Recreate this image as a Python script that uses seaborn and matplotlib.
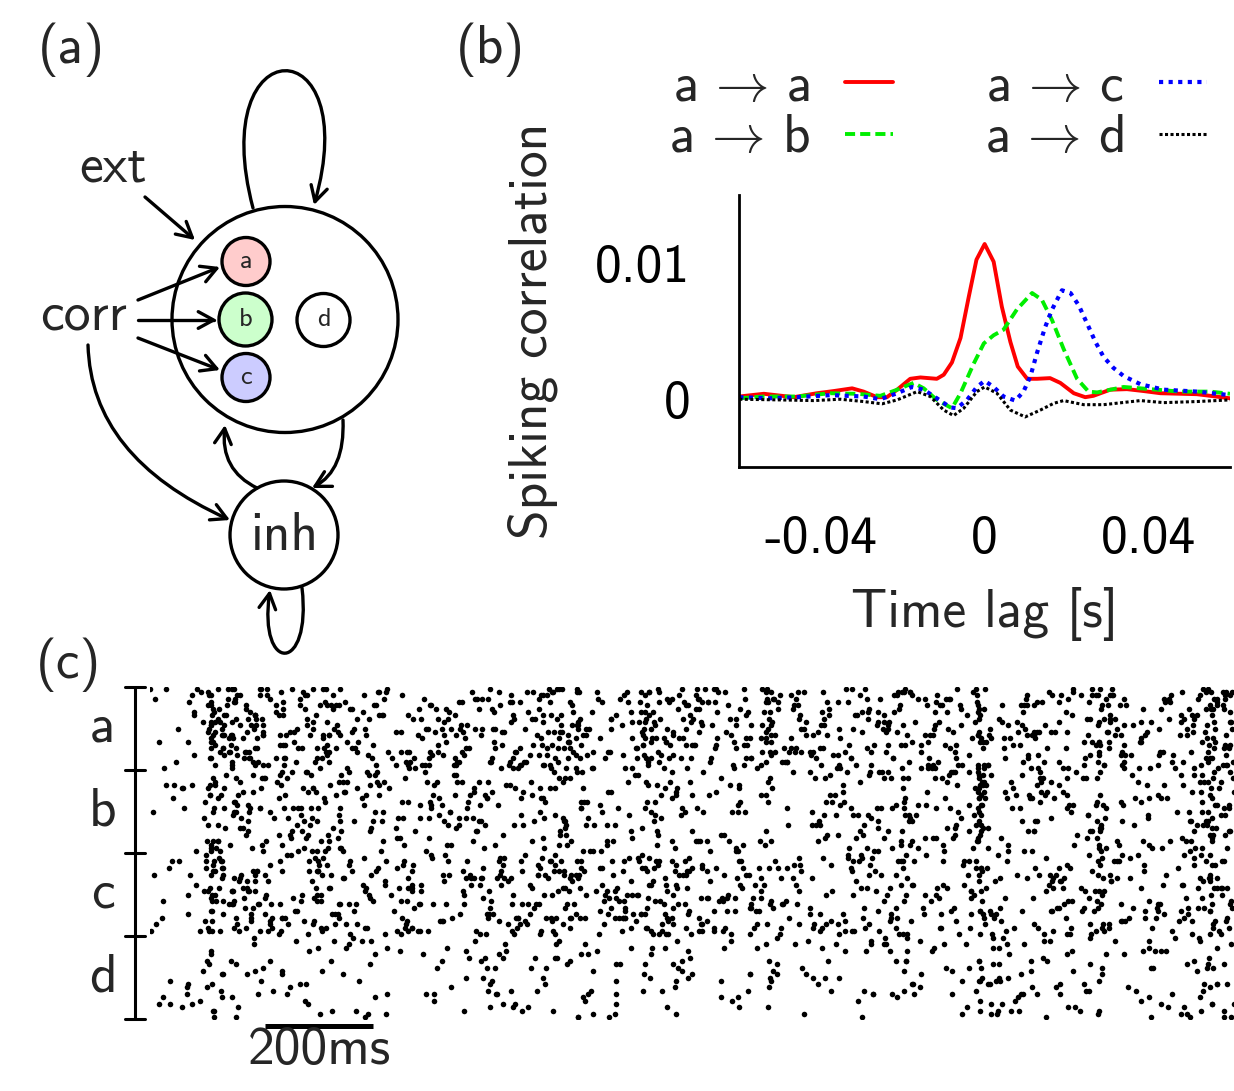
import numpy as np
import pandas as pd
import matplotlib
matplotlib.use("Agg")
import matplotlib.pyplot as plt
import seaborn as sns
from matplotlib.patches import Circle, FancyArrowPatch
from matplotlib.path import Path

# ---------------- data: panel (b) spiking correlation ----------------
lag_aa = [-0.0600, -0.054, -0.0467, -0.041, -0.0369, -0.0324, -0.0296, -0.0263, -0.0239, -0.0214,
          -0.0182, -0.0157, -0.0117, -0.0100, -0.0080, -0.0059, -0.0039, -0.0020, 0.0000, 0.0022,
          0.0042, 0.0063, 0.0081, 0.0104, 0.0128, 0.0160, 0.0185, 0.0218, 0.0246, 0.0266,
          0.0307, 0.0348, 0.0389, 0.0430, 0.0519, 0.0600]
val_aa = [0.0002, 0.0004, 0.00015, 0.00044, 0.0006, 0.0008, 0.00056, 0.00015, 0.00015, 0.0007,
          0.0015, 0.0016, 0.0015, 0.0018, 0.0027, 0.0045, 0.0075, 0.01025, 0.0114, 0.0101,
          0.0068, 0.0042, 0.0024, 0.0015, 0.0015, 0.00155, 0.0012, 0.00044, 0.00015, 0.00025,
          0.0007, 0.00074, 0.0006, 0.00044, 0.00037, 0.00007]

lag_ab = [-0.0600, -0.054, -0.0459, -0.0377, -0.0312, -0.0255, -0.0214, -0.0174, -0.0149, -0.0117,
          -0.0080, -0.0059, -0.0027, -0.0002, 0.0022, 0.0046, 0.0079, 0.0116, 0.0140, 0.0165,
          0.0193, 0.0226, 0.0254, 0.0275, 0.0340, 0.0405, 0.0478, 0.0552, 0.0600]
val_ab = [0.00007, 0.0002, 0.0002, 0.00044, 0.0004, 0.00025, 0.0007, 0.0012, 0.0008, -0.00005,
          -0.00066, 0.00044, 0.0026, 0.0041, 0.0047, 0.0051, 0.0066, 0.0078, 0.0073, 0.0058,
          0.0037, 0.0015, 0.00056, 0.0005, 0.0009, 0.00074, 0.00056, 0.00056, 0.0004]

lag_ac = [-0.0600, -0.0524, -0.0459, -0.0377, -0.0296, -0.0255, -0.0214, -0.0178, -0.0149, -0.0117,
          -0.0084, -0.0068, -0.0043, -0.0019, 0.0000, 0.0022, 0.0046, 0.0075, 0.0095, 0.0112,
          0.0128, 0.0148, 0.0165, 0.0189, 0.0210, 0.0230, 0.0250, 0.0271, 0.0291, 0.0315,
          0.0340, 0.0381, 0.0438, 0.0519, 0.0600]
val_ac = [0.00015, 0.00007, 0.00015, 0.0003, 0.0002, 0.0000, 0.00044, 0.0009, 0.0007, 0.00007,
          -0.0006, -0.00066, -0.00005, 0.0009, 0.00135, 0.0009, 0.0002, -0.0001, 0.00056, 0.0017,
          0.0034, 0.0053, 0.0066, 0.0080, 0.0078, 0.0069, 0.0056, 0.0042, 0.0031, 0.0023,
          0.0017, 0.0011, 0.0007, 0.00056, 0.0003]

lag_ad = [-0.0600, -0.0500, -0.0418, -0.0353, -0.0296, -0.0251, -0.0214, -0.0165, -0.0133, -0.0100,
          -0.0076, -0.0051, -0.0019, 0.0000, 0.0030, 0.0063, 0.0099, 0.0136, 0.0169, 0.0193,
          0.0242, 0.0291, 0.0381, 0.0438, 0.0519, 0.0600]
val_ad = [0.0000, -0.00005, -0.0001, 0.0000, -0.00017, -0.00034, -0.00005, 0.00056, 0.0002, -0.0008,
          -0.0012, -0.00066, 0.00056, 0.0009, 0.00044, -0.0008, -0.0013, -0.0008, -0.0003, -0.0001,
          -0.0004, -0.0004, -0.0001, -0.00025, -0.00017, -0.00005]

series_labels = [r"a$\,\rightarrow\,$a", r"a$\,\rightarrow\,$b", r"a$\,\rightarrow\,$c", r"a$\,\rightarrow\,$d"]
x_ticks = [-0.04, 0.0, 0.04]
x_ticklabels = ["-0.04", "0", "0.04"]
y_ticks = [0.0, 0.01]
y_ticklabels = ["0", "0.01"]

# ---------------- data: panel (c) raster (rates) ----------------
groups = ["a", "b", "c", "d"]
neurons_per_group = 25
bin_ms = 100
rate_a = [9, 26, 20, 22, 15, 21, 20, 22, 15, 23, 22, 17, 16, 20, 13, 16, 17, 18, 10, 22]
rate_b = [5, 18, 15, 15, 12, 14, 13, 14, 10, 14, 14, 10, 12, 17, 10, 13, 12, 11, 8, 20]
rate_c = [8, 22, 11, 17, 17, 18, 18, 21, 14, 20, 19, 17, 14, 19, 10, 13, 13, 14, 10, 17]
rate_d = [5, 9, 6, 5, 4, 5, 7, 5, 7, 6, 5, 6, 4, 6, 6, 8, 7, 6, 6, 7]
burst_times_ms = [114, 1140, 1531, 1753, 1956]
burst_prob_a = [0.5, 0.4, 0.6, 0.5, 0.4]
burst_prob_b = [0.5, 0.1, 0.7, 0.4, 0.4]
burst_prob_c = [0.4, 0.2, 0.5, 0.3, 0.3]
burst_prob_d = [0.15, 0.05, 0.2, 0.1, 0.1]
scale_bar_ms = 200

# ---------------- style ----------------
sns.set_style("white")
FONT = ["cmss10", "DejaVu Sans"]
plt.rcParams["font.family"] = FONT
plt.rcParams["mathtext.fontset"] = "cm"
plt.rcParams["axes.unicode_minus"] = False
FS = 38.5

fig = plt.figure(figsize=(12.34, 10.91), dpi=100)

# overlay in pixel coordinates for panel (a) diagram and panel letters
ov = fig.add_axes([0, 0, 1, 1])
ov.set_xlim(0, 1234)
ov.set_ylim(1091, 0)
ov.axis("off")
ov.patch.set_visible(False)

LW = 2.4
ARW = "->,head_length=0.55,head_width=0.3"


def arrow_path(verts, codes):
    p = FancyArrowPatch(path=Path(verts, codes), arrowstyle=ARW, mutation_scale=20,
                        lw=LW, color="k", shrinkA=0, shrinkB=0, zorder=3)
    ov.add_patch(p)


L, C3, C4 = Path.LINETO, Path.CURVE3, Path.CURVE4
M = Path.MOVETO
# big excitatory population
ov.add_patch(Circle((285, 319.5), 113, fill=False, lw=LW, ec="k", zorder=2))
# sub-populations
for (cx, cy, r, fc, lab) in [(246, 261.5, 24, "#ffcccc", "a"), (245.5, 319.5, 26.5, "#ccffcc", "b"),
                             (246, 377.5, 24, "#ccccff", "c"), (323.5, 320, 26.5, "white", "d")]:
    ov.add_patch(Circle((cx, cy), r, fc=fc, ec="k", lw=LW, zorder=4))
    ov.text(cx, cy, lab, ha="center", va="center", fontsize=19, zorder=5)
# inhibitory population
ov.add_patch(Circle((284, 535), 54, fill=False, lw=LW, ec="k", zorder=2))
ov.text(284, 537, "inh", ha="center", va="center", fontsize=FS)
ov.text(113, 168, "ext", ha="center", va="center", fontsize=FS)
ov.text(84, 316, "corr", ha="center", va="center", fontsize=FS)

# recurrent loop on top
arrow_path([(253, 208), (205, 26), (365, 26), (314, 205)], [M, C4, C4, C4])
# ext arrow
arrow_path([(145, 197), (195, 240)], [M, L])
# corr arrows
arrow_path([(138, 300), (220, 267)], [M, L])
arrow_path([(138, 320), (217, 320)], [M, L])
arrow_path([(138, 338), (220, 370)], [M, L])
arrow_path([(88, 345), (91, 457), (230, 520)], [M, C3, C3])
# exc <-> inh
arrow_path([(257, 488), (220, 470), (225, 425)], [M, C3, C3])
arrow_path([(343, 420), (345, 470), (312, 488)], [M, C3, C3])
# inh self loop
arrow_path([(302, 588), (312, 674), (258, 674), (270, 590)], [M, C4, C4, C4])

# panel letters
ov.text(71, 50, "(a)", ha="center", va="center", fontsize=FS)
ov.text(490, 50, "(b)", ha="center", va="center", fontsize=FS)
ov.text(68, 665, "(c)", ha="center", va="center", fontsize=FS)

# ---------------- panel (b) ----------------
axb = fig.add_axes([739.3 / 1234, (1091 - 467.3) / 1091, 490.7 / 1234, 272.3 / 1091])
axb.patch.set_visible(False)
styles = [
    dict(color="#ff0000", lw=2.8, ls="-"),
    dict(color="#00ee00", lw=2.8, ls=(0, (2.6, 1.3))),
    dict(color="#0000ff", lw=3.0, ls=(0, (1, 1.3))),
    dict(color="black", lw=2.2, ls=(0, (1, 0.8))),
]
for (lx, ly), lab, st in zip([(lag_aa, val_aa), (lag_ab, val_ab), (lag_ac, val_ac), (lag_ad, val_ad)],
                             series_labels, styles):
    df = pd.DataFrame({"lag": lx, "corr": ly})
    sns.lineplot(data=df, x="lag", y="corr", ax=axb, color=st["color"], linewidth=st["lw"],
                 linestyle=st["ls"], label=lab, errorbar=None, sort=False)
handles, labels = axb.get_legend_handles_labels()
if axb.get_legend() is not None:
    axb.get_legend().remove()

axb.set_xlim(-0.06, 0.06)
axb.set_ylim(-0.005, 0.015)
axb.set_xticks(x_ticks, x_ticklabels)
axb.set_yticks(y_ticks, y_ticklabels)
for s in ["top", "right"]:
    axb.spines[s].set_visible(False)
for s in ["left", "bottom"]:
    axb.spines[s].set_linewidth(2.0)
    axb.spines[s].set_color("black")
axb.tick_params(axis="x", direction="out", length=8.6, width=2.0, pad=26, labelsize=FS, colors="black")
axb.tick_params(axis="y", direction="out", length=7.2, width=2.0, pad=28, labelsize=FS, colors="black")
axb.set_xlabel("Time lag [s]", fontsize=FS)
axb.set_ylabel("Spiking correlation", fontsize=FS)
axb.xaxis.set_label_coords(0.5, -0.44)
axb.yaxis.set_label_coords(-0.37, 0.5)

fig.legend(handles, labels, ncol=2, loc="center", bbox_to_anchor=(938 / 1234, 1 - 113 / 1091),
           frameon=False, markerfirst=False, handlelength=0.9, handletextpad=0.65,
           columnspacing=1.72, labelspacing=0.05, fontsize=FS, borderpad=0)

# ---------------- panel (c) raster ----------------
rng = np.random.default_rng(7)
rows_t, rows_y = [], []
rates = [rate_a, rate_b, rate_c, rate_d]
bprobs = [burst_prob_a, burst_prob_b, burst_prob_c, burst_prob_d]
for g, (rate, bp) in enumerate(zip(rates, bprobs)):
    for n in range(neurons_per_group):
        row = g * neurons_per_group + n + 0.5
        for b, r in enumerate(rate):
            k = rng.poisson(r * bin_ms / 1000.0)
            rows_t.extend(b * bin_ms + rng.uniform(0, bin_ms, k))
            rows_y.extend([row] * k)
        for t0, p in zip(burst_times_ms, bp):
            if rng.random() < p:
                rows_t.append(t0 + rng.normal(0, 4))
                rows_y.append(row)
spikes = pd.DataFrame({"t": rows_t, "neuron": rows_y})
spikes = spikes[(spikes.t >= 0) & (spikes.t <= 2000)]

axc = fig.add_axes([150 / 1234, (1091 - 1019) / 1091, 1084 / 1234, 332 / 1091])
sns.scatterplot(data=spikes, x="t", y="neuron", ax=axc, s=16, color="black", linewidth=0, legend=False)
total_rows = neurons_per_group * len(groups)
axc.set_xlim(0, 2000)
axc.set_ylim(total_rows, 0)
axc.axis("off")

# vertical group bar with ticks and labels
xb = -27.7
axc.plot([xb, xb], [0, total_rows], color="black", lw=2.2, clip_on=False)
for k in range(len(groups) + 1):
    axc.plot([-46.1, -9.2], [k * neurons_per_group] * 2, color="black", lw=2.2, clip_on=False)
for k, g in enumerate(groups):
    axc.text(-86.7, (k + 0.5) * neurons_per_group, g, ha="center", va="center", fontsize=FS)
# time scale bar
axc.plot([212, 212 + scale_bar_ms], [102.0, 102.0], color="black", lw=3.6, clip_on=False,
         solid_capstyle="butt")
axc.text(212 + scale_bar_ms / 2, 109.5, f"{scale_bar_ms}ms", ha="center", va="center", fontsize=FS)

fig.savefig("out.png", dpi=100)
